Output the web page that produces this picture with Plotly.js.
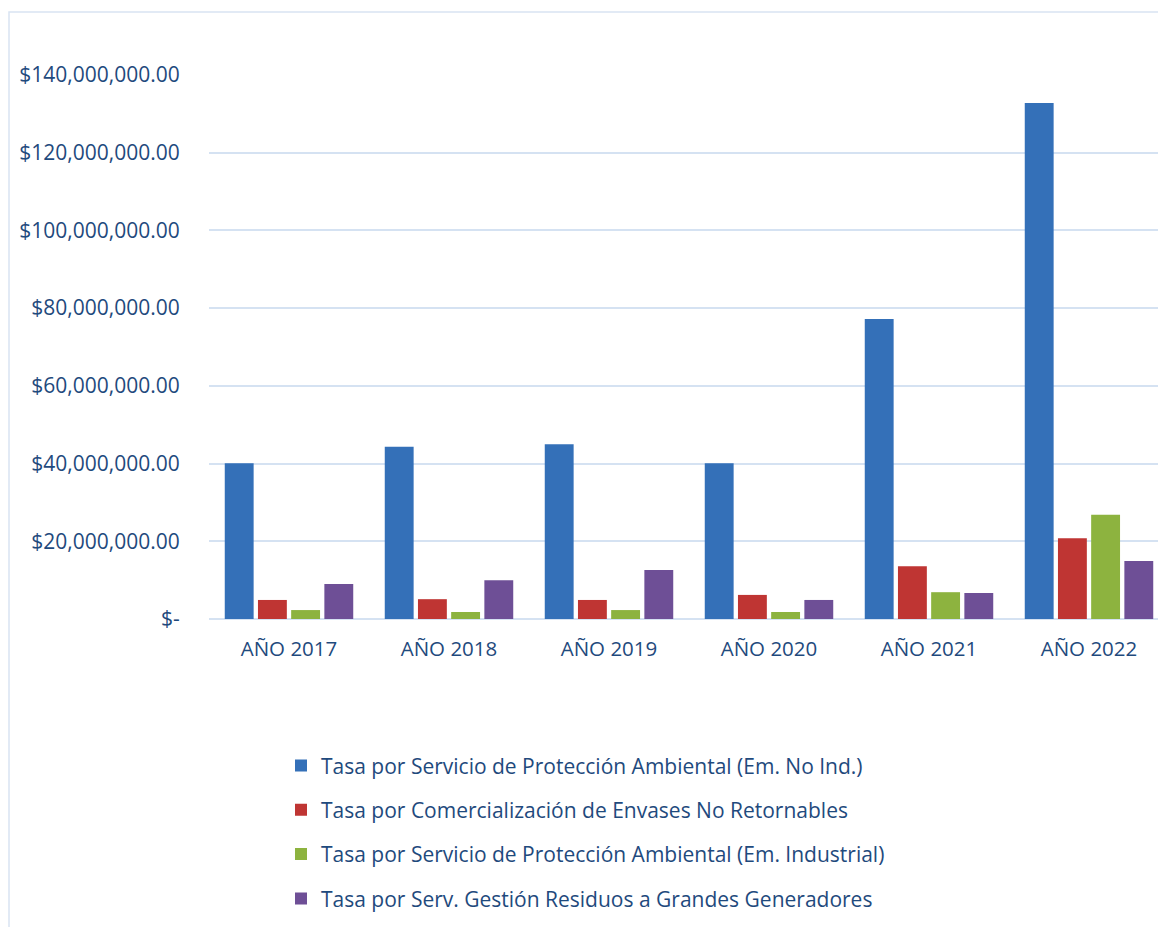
<!DOCTYPE html>
<html><head><meta charset="utf-8">
<script src="https://cdn.plot.ly/plotly-3.0.1.min.js"></script>
<style>html,body{margin:0;padding:0;background:#fff;overflow:hidden}</style>
</head><body><div id="chart" style="width:1158px;height:927px"></div>
<script>
const years = ["AÑO 2017","AÑO 2018","AÑO 2019","AÑO 2020","AÑO 2021","AÑO 2022"];
const seriesNames = [
  "Tasa por Servicio de Protección Ambiental (Em. No Ind.)",
  "Tasa por Comercialización de Envases No Retornables",
  "Tasa por Servicio de Protección Ambiental (Em. Industrial)",
  "Tasa por Serv. Gestión Residuos a Grandes Generadores"
];
const noInd      = [40100000, 44300000, 45000000, 40100000, 77200000, 132800000];
const envases    = [4900000, 5100000, 4900000, 6200000, 13600000, 20800000];
const industrial = [2300000, 1800000, 2300000, 1800000, 6900000, 26800000];
const grandes    = [9000000, 10000000, 12600000, 4900000, 6700000, 14900000];
const tickVals = [0, 20000000, 40000000, 60000000, 80000000, 100000000, 120000000, 140000000];
const tickText = ["$-", "$20,000,000.00", "$40,000,000.00", "$60,000,000.00", "$80,000,000.00", "$100,000,000.00", "$120,000,000.00", "$140,000,000.00"];

const colors = ["#3470b8", "#bf3533", "#8db33f", "#6e4f96"];
const allValues = [noInd, envases, industrial, grandes];
const textColor = "#1f4a7d";
const fam = "Open Sans, sans-serif";

const traces = allValues.map((v, i) => ({
  type: "bar", x: years, y: v, name: seriesNames[i],
  marker: {color: colors[i], line: {width: 0}},
  legendgroup: "g" + i, hoverinfo: "skip"
}));

const W = 1158, H = 927, L = 209, T = 75, B = 927 - 618.7;
const pw = W - L, ph = H - T - B;
const px = v => (v - L) / pw, py = v => (618.7 - v) / ph;

const layout = {
  width: W, height: H,
  margin: {l: L, r: 0, t: T, b: B, pad: 0, autoexpand: false},
  paper_bgcolor: "#ffffff", plot_bgcolor: "#ffffff",
  font: {family: fam, size: 21, color: textColor},
  barmode: "group", bargap: 0.17, bargroupgap: 0.13,
  xaxis: {
    type: "category", range: [-0.5, -0.5 + pw / 160], automargin: false,
    showgrid: false, zeroline: false, showline: false, tickangle: 0,
    ticks: "outside", ticklen: 11, tickcolor: "rgba(0,0,0,0)",
    tickfont: {family: fam, size: 20.5, color: textColor}
  },
  yaxis: {
    range: [0, 140000000], tickvals: tickVals, ticktext: tickText, automargin: false,
    showgrid: true, gridcolor: "#d5e2f2", gridwidth: 2,
    zeroline: true, zerolinecolor: "#d5e2f2", zerolinewidth: 2,
    showline: false, ticks: "outside", ticklen: 24, tickcolor: "rgba(0,0,0,0)",
    tickfont: {family: fam, size: 21, color: textColor}
  },
  showlegend: true,
  legend: {
    orientation: "v", xref: "paper", yref: "paper",
    x: px(281), y: py(745), xanchor: "left", yanchor: "top",
    traceorder: "grouped", tracegroupgap: 14, itemwidth: 30,
    font: {family: fam, size: 21, color: textColor},
    bgcolor: "rgba(0,0,0,0)"
  },
  shapes: [{
    type: "rect", xref: "paper", yref: "paper",
    x0: px(9), x1: px(1170), y0: py(940), y1: py(12),
    line: {color: "#d9e4f2", width: 1.5}, fillcolor: "rgba(0,0,0,0)", layer: "below"
  }]
};

Plotly.newPlot("chart", traces, layout, {staticPlot: true, displayModeBar: false});
</script></body></html>
